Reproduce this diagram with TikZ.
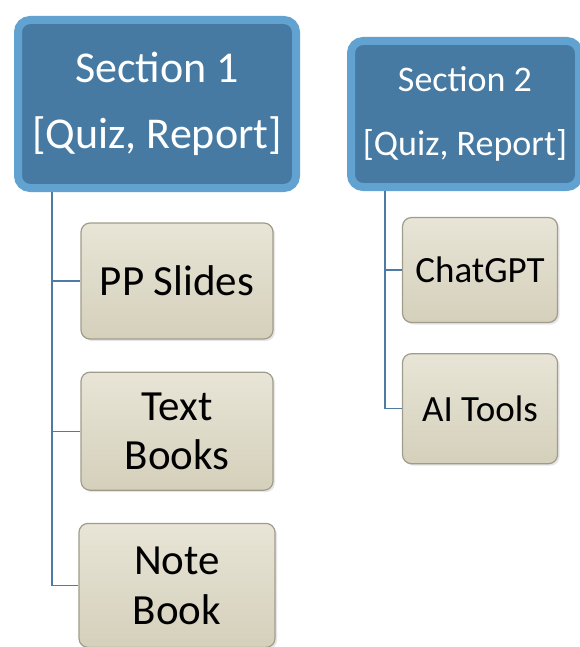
\documentclass[tikz,border=0pt]{standalone}
\usepackage{fontspec}
\setmainfont{Carlito}
\usetikzlibrary{positioning,shadows}
\definecolor{hdrface}{HTML}{467AA3}
\definecolor{hdredge}{HTML}{62A2D0}
\definecolor{itemtop}{HTML}{E8E5D7}
\definecolor{itembot}{HTML}{D5D0BB}
\definecolor{itemedge}{HTML}{A09C8C}
\definecolor{linkcol}{HTML}{4D7BA3}

\begin{document}
\begin{tikzpicture}[x=1pt,y=1pt,
    section/.style={rectangle,rounded corners=12pt,draw=hdredge,line width=8pt,fill=hdrface,
      text=white,align=center,inner sep=0pt},
    item/.style={rectangle,rounded corners=9pt,draw=itemedge,line width=1.2pt,
      top color=itemtop,bottom color=itembot,align=center,inner sep=2pt,
      drop shadow={opacity=0.2,shadow xshift=2pt,shadow yshift=-2pt}},
    link/.style={draw=linkcol,line width=1.4pt},
    node distance=32pt]
\useasboundingbox (0,0) rectangle (580,-647);

% section headers
\node[section,minimum width=278pt,minimum height=168pt,
  font=\fontsize{44}{66}\selectfont] (sec1) at (157,-104) {Section 1\\{[Quiz, Report]}};
\node[section,minimum width=228pt,minimum height=146pt,
  font=\fontsize{36}{64}\selectfont] (sec2) at (465,-114) {Section 2\\{[Quiz, Report]}};

% section 1 items
\node[item,minimum width=192pt,minimum height=116pt,font=\fontsize{43}{49}\selectfont] (pp) at (177,-281) {PP Slides};
\node[item,minimum width=192pt,minimum height=118pt,font=\fontsize{43}{49}\selectfont] (tb) [below=of pp] {Text\\Books};
\node[item,minimum width=196pt,minimum height=124pt,font=\fontsize{43}{50}\selectfont] (nb) [below=of tb] {Note\\Book};

% section 2 items
\node[item,minimum width=155pt,minimum height=105pt,font=\fontsize{37}{44}\selectfont] (cg) at (480,-270) {ChatGPT};
\node[item,minimum width=155pt,minimum height=110pt,font=\fontsize{37}{44}\selectfont,
  node distance=30pt] (ai) [below=of cg] {AI Tools};

% connectors
\coordinate (t1) at ([xshift=38pt]sec1.south west);
\coordinate (t2) at ([xshift=38pt]sec2.south west);
\draw[link] (t1) |- (pp.west);
\draw[link] (t1) |- (tb.west);
\draw[link] (t1) |- (nb.west);
\draw[link] (t2) |- (cg.west);
\draw[link] (t2) |- (ai.west);
\end{tikzpicture}
\end{document}
